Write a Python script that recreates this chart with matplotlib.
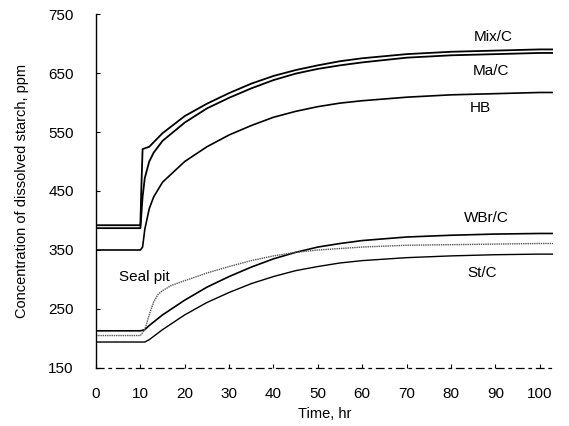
import matplotlib
matplotlib.use("Agg")
import matplotlib.pyplot as plt

plt.rcParams['font.family'] = ['Liberation Sans', 'DejaVu Sans']

# Time (hr) and dissolved starch concentration (ppm) per sample
t_mix = [0, 10, 10.2, 10.5, 12, 15, 20, 25, 30, 35, 40, 45, 50, 55, 60, 70, 80, 90, 100, 103]
mix_c = [392, 392, 450, 521, 525, 548, 577, 598, 616, 632, 645, 655, 663, 670, 675, 682, 686, 688, 690, 690]

t_ma = [0, 10, 10.5, 11, 12, 13, 15, 20, 25, 30, 35, 40, 45, 50, 55, 60, 70, 80, 90, 100, 103]
ma_c = [387, 387, 440, 472, 500, 515, 535, 566, 590, 608, 624, 638, 649, 657, 663, 668, 676, 680, 682, 684, 684]

t_hb = [0, 10, 10.5, 11, 12, 13, 15, 20, 25, 30, 35, 40, 45, 50, 55, 60, 70, 80, 90, 100, 103]
hb = [350, 350, 355, 385, 420, 440, 465, 500, 525, 545, 561, 575, 585, 593, 599, 603, 609, 613, 615, 617, 617]

t_wbr = [0, 10, 11, 12, 15, 20, 25, 30, 35, 40, 45, 50, 55, 60, 70, 80, 90, 100, 103]
wbr_c = [213, 213, 215, 222, 240, 265, 287, 305, 321, 335, 346, 355, 361, 366, 372, 375, 377, 378, 378]

t_seal = [0, 10, 11, 12, 13, 14, 15, 17, 20, 25, 30, 35, 40, 45, 50, 60, 70, 80, 90, 100, 103]
seal_pit = [205, 205, 215, 240, 262, 275, 281, 290, 298, 311, 322, 332, 340, 346, 350, 355, 358, 359, 360, 361, 361]

t_st = [0, 11, 12, 15, 20, 25, 30, 35, 40, 45, 50, 55, 60, 70, 80, 90, 100, 103]
st_c = [194, 194, 198, 215, 240, 261, 278, 293, 305, 315, 322, 328, 332, 337, 340, 342, 343, 343]

x_ticks = [0, 10, 20, 30, 40, 50, 60, 70, 80, 90, 100]
y_ticks = [150, 250, 350, 450, 550, 650, 750]

fig = plt.figure(figsize=(5.69, 4.26), dpi=100)
ax = fig.add_axes([0.1687, 0.1362, 0.8033, 0.8309])

ax.plot(t_mix, mix_c, color='black', lw=1.3)
ax.plot(t_ma, ma_c, color='black', lw=1.3)
ax.plot(t_hb, hb, color='black', lw=1.2)
ax.plot(t_wbr, wbr_c, color='black', lw=1.2)
ax.plot(t_seal, seal_pit, color='#555555', lw=1.0, linestyle=(0, (1, 0.6)))
ax.plot(t_st, st_c, color='black', lw=1.0)

ax.set_xlim(0, 103)
ax.set_ylim(150, 750)
ax.set_xticks(x_ticks)
ax.set_yticks(y_ticks)
ax.tick_params(direction='in', length=3, labelsize=11)
ax.tick_params(axis='y', pad=16)
ax.tick_params(axis='x', pad=14)

for side in ['top', 'right']:
    ax.spines[side].set_visible(False)
ax.spines['left'].set_linewidth(1.0)
ax.spines['bottom'].set_linewidth(0.9)
ax.spines['bottom'].set_linestyle((0, (6, 4, 2, 4)))

ax.set_xlabel('Time, hr', fontsize=10.5, labelpad=4)
ax.set_ylabel('Concentration of dissolved starch, ppm', fontsize=10.5, labelpad=14)

ax.text(89.5, 711, 'Mix/C', fontsize=11, ha='center', va='center')
ax.text(89, 653, 'Ma/C', fontsize=11, ha='center', va='center')
ax.text(86.7, 591, 'HB', fontsize=11, ha='center', va='center')
ax.text(88, 404, 'WBr/C', fontsize=11, ha='center', va='center')
ax.text(87, 311, 'St/C', fontsize=11, ha='center', va='center')
ax.text(11, 304, 'Seal pit', fontsize=11, ha='center', va='center')

fig.savefig('out.png', dpi=100)
